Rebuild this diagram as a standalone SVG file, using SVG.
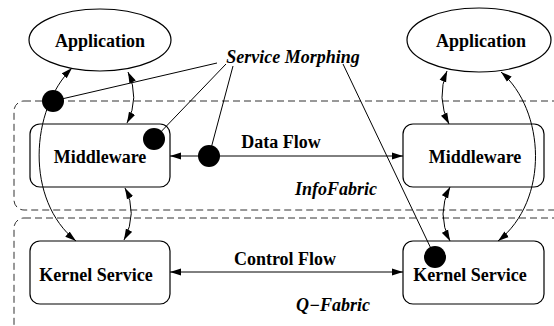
<svg xmlns="http://www.w3.org/2000/svg" width="554" height="326" viewBox="0 0 554 326">
<defs>
<marker id="ah" markerUnits="userSpaceOnUse" markerWidth="12" markerHeight="8" refX="11" refY="4" orient="auto-start-reverse">
<path d="M0,0.5 L11,4 L0,7.5 z" fill="#000"/>
</marker>
<style>
.node{fill:#fff;stroke:#000;stroke-width:1.2}
.t{font-weight:bold;font-size:18px;text-anchor:middle;fill:#000}
.it{font-style:italic}
.dash{fill:none;stroke:#333;stroke-width:1;stroke-dasharray:7 4}
.c{fill:none;stroke:#000;stroke-width:1}
.a{marker-start:url(#ah);marker-end:url(#ah)}
.dot{fill:#000}
</style>
</defs>
<g font-family="Liberation Serif, serif">
<rect id="infofabric" class="dash" x="14" y="101" width="550" height="109" rx="10"/>
<rect id="qfabric" class="dash" x="14" y="218" width="550" height="120" rx="10"/>
<g id="app-left"><ellipse class="node" cx="100" cy="40" rx="71" ry="31"/><text class="t" x="100" y="47">Application</text></g>
<g id="app-right"><ellipse class="node" cx="479" cy="40" rx="72" ry="32"/><text class="t" x="481" y="47">Application</text></g>
<g id="mw-left"><rect class="node" x="30" y="124" width="140" height="63" rx="10"/><text class="t" x="100" y="163">Middleware</text></g>
<g id="mw-right"><rect class="node" x="403" y="124" width="141" height="63" rx="10"/><text class="t" x="475" y="163">Middleware</text></g>
<g id="ks-left"><rect class="node" x="30" y="241" width="140" height="63" rx="10"/><text class="t" x="96" y="281">Kernel Service</text></g>
<g id="ks-right"><rect class="node" x="403" y="241" width="141" height="63" rx="10"/><text class="t" x="470" y="281">Kernel Service</text></g>
<g id="connectors">
<path class="c a" d="M72,68 C30,110 25,200 76,241"/>
<path class="c a" d="M128,72 Q140,98 127,123"/>
<path class="c a" d="M125,188 Q138,213 124,240"/>
<path class="c a" d="M447,71 Q436,98 449,124"/>
<path class="c a" d="M450,187 Q436,214 450,241"/>
<path class="c a" d="M501,72 C545,110 550,200 498,241"/>
<path class="c a" d="M170,156 L403,156"/>
<path class="c a" d="M170,272 L403,272"/>
<path class="c" d="M217,63 L53,101"/>
<path class="c" d="M226,64 L154,139"/>
<path class="c" d="M233,66 L209,156"/>
<path class="c" d="M343,64 L435,257"/>
</g>
<g id="dots">
<circle class="dot" cx="53" cy="101" r="11"/>
<circle class="dot" cx="154" cy="139" r="11"/>
<circle class="dot" cx="209" cy="156" r="11"/>
<circle class="dot" cx="435" cy="257" r="11"/>
</g>
<g id="labels">
<text class="t it" x="293" y="63">Service Morphing</text>
<text class="t" x="281" y="148">Data Flow</text>
<text class="t" x="285" y="265">Control Flow</text>
<text class="t it" x="336" y="195">InfoFabric</text>
<text class="t it" x="333" y="311">Q−Fabric</text>
</g>
</g>
</svg>
